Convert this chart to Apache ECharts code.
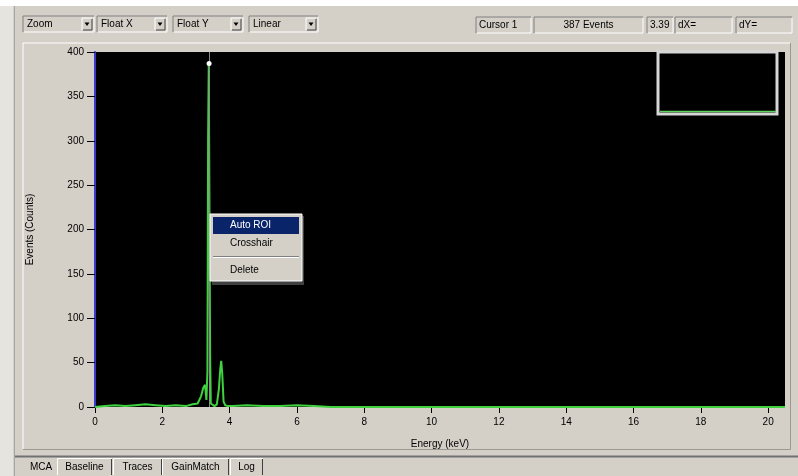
<!DOCTYPE html>
<html><head><meta charset="utf-8">
<script src="https://cdn.jsdelivr.net/npm/echarts@6/dist/echarts.min.js"></script>
<style>html,body{margin:0;padding:0;background:#d4d0c8;overflow:hidden}#c{width:798px;height:476px}</style>
</head><body><div id="c"></div><script>
// ---- data ----
const energyKeV = [0.0, 0.3, 0.6, 0.9, 1.2, 1.5, 1.8, 2.1, 2.4, 2.7, 2.9, 3.05, 3.15, 3.22, 3.27, 3.31, 3.34, 3.36, 3.38, 3.40, 3.42, 3.44, 3.48, 3.55, 3.62, 3.68, 3.72, 3.75, 3.78, 3.82, 3.87, 3.95, 4.1, 4.5, 5.0, 5.5, 6.0, 6.5, 7.0, 8.0, 10.0, 12.0, 14.0, 16.0, 18.0, 20.0, 20.5];
const counts    = [0, 1, 2, 1, 2, 3, 2, 1, 2, 1, 3, 4, 12, 22, 25, 8, 40, 300, 387, 230, 60, 4, 2, 1, 3, 20, 42, 52, 38, 6, 2, 1, 1, 2, 1, 1, 2, 1, 0, 0, 0, 0, 0, 0, 0, 0, 0];
const cursorEnergy = 3.39;
const cursorCounts = 387;
const xTickValues = [0, 2, 4, 6, 8, 10, 12, 14, 16, 18, 20];
const toolbarDropdowns = ['Zoom', 'Float X', 'Float Y', 'Linear'];
const statusFields = ['Cursor 1', '387 Events', '3.39', 'dX=', 'dY='];
const tabLabels = ['MCA', 'Baseline', 'Traces', 'GainMatch', 'Log'];
const menuItems = ['Auto ROI', 'Crosshair', 'Delete'];
const xAxisName = 'Energy (keV)';
const yAxisName = 'Events (Counts)';

const FONT = '10px "Liberation Sans", Arial, sans-serif';
const chart = echarts.init(document.getElementById('c'), null, {renderer: 'canvas'});

function sunken(x, y, w, h) {
  return [
    {type: 'rect', shape: {x, y, width: w, height: h}, style: {fill: '#d4d0c8', stroke: null}},
    {type: 'polyline', shape: {points: [[x, y + h], [x, y], [x + w, y]]}, style: {stroke: '#808080', lineWidth: 1, fill: null}},
    {type: 'polyline', shape: {points: [[x + 1, y + h], [x + w, y + h], [x + w, y + 1]]}, style: {stroke: '#ffffff', lineWidth: 1, fill: null}}
  ];
}
function raised(x, y, w, h) {
  return [
    {type: 'rect', shape: {x, y, width: w, height: h}, style: {fill: '#d4d0c8', stroke: null}},
    {type: 'polyline', shape: {points: [[x, y + h], [x, y], [x + w, y]]}, style: {stroke: '#ffffff', lineWidth: 1, fill: null}},
    {type: 'polyline', shape: {points: [[x + 1, y + h], [x + w, y + h], [x + w, y + 1]]}, style: {stroke: '#404040', lineWidth: 1, fill: null}}
  ];
}
function txt(text, x, y, opt) {
  return {type: 'text', style: Object.assign({text, x, y, fill: '#000', font: FONT, textAlign: 'left', textVerticalAlign: 'middle'}, opt || {})};
}

const g = [];
// window background pieces
g.push({type: 'rect', shape: {x: 0, y: 0, width: 798, height: 6}, style: {fill: '#ffffff'}});
g.push({type: 'rect', shape: {x: 0, y: 6, width: 13, height: 470}, style: {fill: '#e6e4df'}});
g.push({type: 'line', shape: {x1: 14.5, y1: 6, x2: 14.5, y2: 476}, style: {stroke: '#a8a6a0', lineWidth: 1}});

// toolbar dropdowns
const ddBoxes = [[23, 71], [97, 70], [173, 70], [249, 69]];
toolbarDropdowns.forEach((label, i) => {
  const [x, w] = ddBoxes[i];
  sunken(x, 16, w, 16).forEach(e => g.push(e));
  g.push(txt(label, x + 4, 24.5));
  const bx = x + w - 12;
  raised(bx, 18, 10, 12).forEach(e => g.push(e));
  g.push({type: 'polygon', shape: {points: [[bx + 2.5, 22.5], [bx + 7.5, 22.5], [bx + 5, 26]]}, style: {fill: '#000'}});
});

// status fields
const stBoxes = [[476, 55, 'left'], [534, 109, 'center'], [647, 26, 'left'], [675, 57, 'left'], [736, 56, 'left']];
statusFields.forEach((label, i) => {
  const [x, w, al] = stBoxes[i];
  sunken(x, 17, w, 16).forEach(e => g.push(e));
  g.push(txt(label, al === 'center' ? x + w / 2 : x + 3, 25.5, {textAlign: al}));
});

// chart panel frame
g.push({type: 'polyline', shape: {points: [[23, 449], [23, 43], [790, 43]]}, style: {stroke: '#ffffff', lineWidth: 1, fill: null}});
g.push({type: 'polyline', shape: {points: [[23, 449.5], [790.5, 449.5], [790.5, 43]]}, style: {stroke: '#9a988f', lineWidth: 1, fill: null}});

// tab strip
g.push({type: 'line', shape: {x1: 15, y1: 456.5, x2: 798, y2: 456.5}, style: {stroke: '#707070', lineWidth: 2}});
const tabX = [[25, 32], [57, 55], [113, 49], [162, 67], [230, 33]];
tabLabels.forEach((label, i) => {
  const [x, w] = tabX[i];
  if (i > 0) {
    g.push({type: 'polyline', shape: {points: [[x + 0.5, 475], [x + 0.5, 458.5], [x + w, 458.5]]}, style: {stroke: '#ffffff', lineWidth: 1, fill: null}});
    g.push({type: 'polyline', shape: {points: [[x + w - 0.5, 459], [x + w - 0.5, 475]]}, style: {stroke: '#404040', lineWidth: 1, fill: null}});
  }
  g.push(txt(label, x + w / 2, 467, {textAlign: 'center'}));
});

// mini overview box
g.push({type: 'rect', z: 50, shape: {x: 658, y: 52, width: 119, height: 62}, style: {fill: null, stroke: '#d6d6d6', lineWidth: 3}});
g.push({type: 'line', z: 50, shape: {x1: 660, y1: 111.5, x2: 776, y2: 111.5}, style: {stroke: '#5fd35f', lineWidth: 1.5}});

// context menu
const mx = 210, my = 214;
g.push({type: 'rect', z: 60, shape: {x: mx + 2, y: my + 2, width: 92, height: 69}, style: {fill: '#404040'}});
g.push({type: 'rect', z: 61, shape: {x: mx, y: my, width: 92, height: 67}, style: {fill: '#d4d0c8', stroke: '#ffffff', lineWidth: 1}});
g.push({type: 'rect', z: 62, shape: {x: mx + 3, y: my + 3, width: 86, height: 17}, style: {fill: '#0a246a'}});
g.push(Object.assign(txt(menuItems[0], mx + 20, my + 11.5, {fill: '#ffffff'}), {z: 63}));
g.push(Object.assign(txt(menuItems[1], mx + 20, my + 29), {z: 63}));
g.push({type: 'line', z: 63, shape: {x1: mx + 3, y1: my + 42.5, x2: mx + 89, y2: my + 42.5}, style: {stroke: '#808080', lineWidth: 1}});
g.push({type: 'line', z: 63, shape: {x1: mx + 3, y1: my + 43.5, x2: mx + 89, y2: my + 43.5}, style: {stroke: '#ffffff', lineWidth: 1}});
g.push(Object.assign(txt(menuItems[2], mx + 20, my + 56), {z: 63}));

const option = {
  backgroundColor: '#d4d0c8',
  animation: false,
  grid: {left: 95, right: 13, top: 52, bottom: 69, show: true, backgroundColor: '#000000', borderWidth: 0},
  xAxis: {
    type: 'value', min: 0, max: 20.5, interval: 2,
    name: xAxisName, nameLocation: 'middle', nameGap: 32,
    nameTextStyle: {color: '#000', fontSize: 10, fontFamily: 'Liberation Sans'},
    axisLine: {show: false},
    axisTick: {show: true, length: 6, lineStyle: {color: '#000'}, customValues: xTickValues},
    axisLabel: {color: '#000', fontSize: 10, fontFamily: 'Liberation Sans', margin: 10, customValues: xTickValues},
    splitLine: {show: false}
  },
  yAxis: {
    type: 'value', min: 0, max: 400, interval: 50,
    name: yAxisName, nameLocation: 'middle', nameGap: 60, nameRotate: 90,
    nameTextStyle: {color: '#000', fontSize: 10, fontFamily: 'Liberation Sans'},
    axisLine: {show: true, lineStyle: {color: '#3a3acc', width: 2}},
    axisTick: {show: true, length: 8, lineStyle: {color: '#000'}},
    axisLabel: {color: '#000', fontSize: 10, fontFamily: 'Liberation Sans', margin: 11},
    splitLine: {show: false}
  },
  series: [{
    type: 'line',
    smooth: false,
    data: energyKeV.map((e, i) => [e, counts[i]]),
    showSymbol: false,
    lineStyle: {color: '#3fd23f', width: 2},
    z: 3,
    markLine: {
      silent: true, symbol: 'none', animation: false,
      lineStyle: {color: '#8a8a8a', type: 'solid', width: 1},
      label: {show: false},
      data: [{xAxis: cursorEnergy}]
    },
    markPoint: {
      silent: true, symbol: 'circle', symbolSize: 5,
      itemStyle: {color: '#ffffff'}, label: {show: false},
      data: [{coord: [cursorEnergy, cursorCounts]}]
    }
  }],
  graphic: {elements: g}
};
chart.setOption(option);
</script></body></html>
